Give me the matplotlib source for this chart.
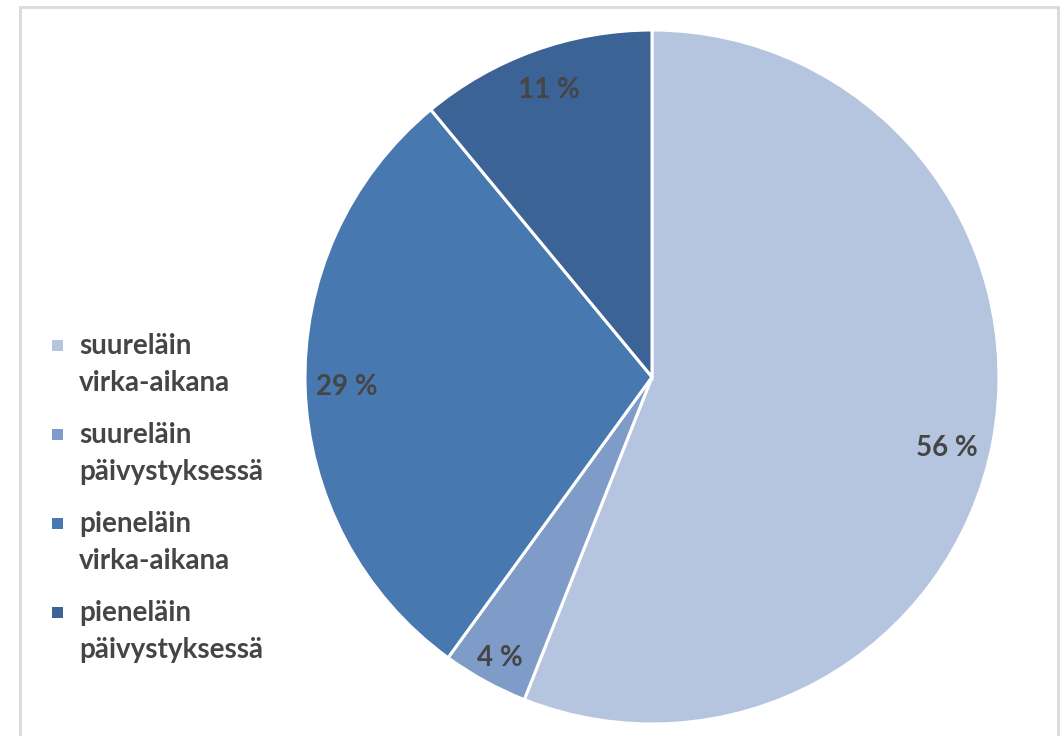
import matplotlib.pyplot as plt
from matplotlib.patches import Rectangle

labels = ['suureläin\nvirka-aikana', 'suureläin\npäivystyksessä',
          'pieneläin\nvirka-aikana', 'pieneläin\npäivystyksessä']
values = [56, 4, 29, 11]
colors = ['#b5c4df', '#7f9cc8', '#4878b0', '#3b6395']

plt.rcParams['font.family'] = ['Lato', 'DejaVu Sans']
txt = '#454545'

W, H = 1064, 736
fig = plt.figure(figsize=(W / 100, H / 100), dpi=100)
fig.patches.append(Rectangle((20/W, -0.1), 1038/W, 1.1 - 7/H,
                             transform=fig.transFigure, fill=False,
                             edgecolor='#d9d9d9', linewidth=2))

ax = fig.add_axes([305/W, 12/H, 694/W, 694/H])
wedges, texts, autotexts = ax.pie(values, colors=colors, startangle=90, counterclock=False,
                                  autopct=lambda p: f'{p:.0f} %', pctdistance=0.88,
                                  wedgeprops=dict(edgecolor='white', linewidth=2.2),
                                  textprops=dict(color=txt, fontsize=20, fontweight='bold'))
# nudge the two lower labels a little down, like the original
for t in autotexts[:2]:
    x, y = t.get_position()
    t.set_position((x - 0.015, y - 0.04))
ax.set_xlim(-1, 1)
ax.set_ylim(-1, 1)
ax.set_aspect('equal')

# legend drawn by hand so the square sits on the first line of each label
top, step, sq = 345, 89, 11
for i, (lab, c) in enumerate(zip(labels, colors)):
    yc = top + i * step
    fig.patches.append(Rectangle(((57 - sq / 2) / W, 1 - (yc + sq / 2) / H), sq / W, sq / H,
                                 transform=fig.transFigure, facecolor=c, edgecolor='none'))
    fig.text(79 / W, 1 - (yc + 19.5) / H, lab, ha='left', va='center', color=txt,
             fontsize=20, fontweight='bold', linespacing=1.5)

fig.savefig('out.png', dpi=100)
